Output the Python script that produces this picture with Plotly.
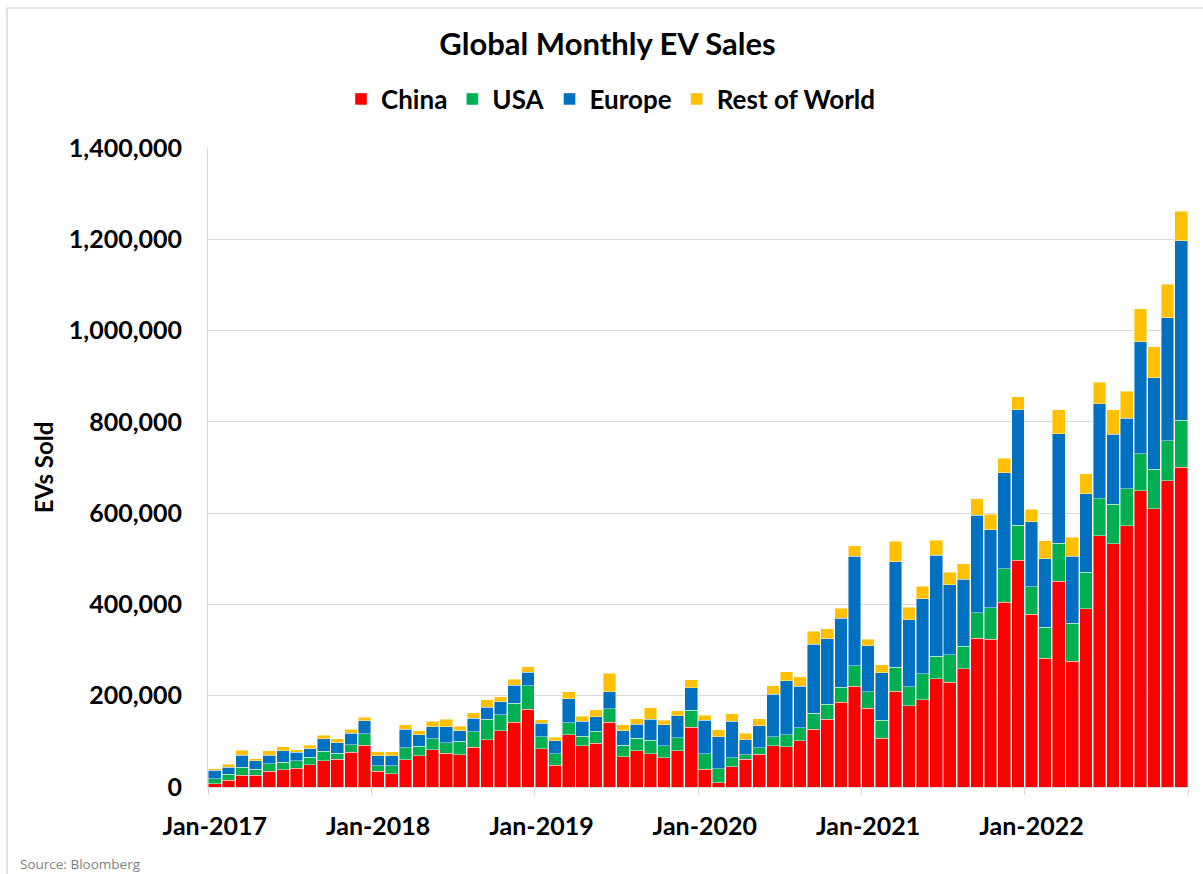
import plotly.graph_objects as go

# ---- Data (monthly EV sales, Jan-2017 .. Dec-2022) ----
month_names = ["Jan", "Feb", "Mar", "Apr", "May", "Jun",
               "Jul", "Aug", "Sep", "Oct", "Nov", "Dec"]
years = [2017, 2018, 2019, 2020, 2021, 2022]
months = [f"{m}-{y}" for y in years for m in month_names]

china = [
    7000, 15000, 26000, 26000, 35000, 38000, 41000, 49000, 57000, 61000, 76000, 91000,
    35000, 29000, 60000, 69000, 82000, 74000, 71000, 87000, 103000, 123000, 142000, 170000,
    84000, 48000, 114000, 90000, 96000, 142000, 66000, 79000, 73000, 64000, 79000, 131000,
    39000, 9000, 44000, 61000, 72000, 90000, 88000, 101000, 127000, 148000, 186000, 221000,
    173000, 107000, 210000, 178000, 191000, 237000, 230000, 259000, 326000, 324000, 405000, 497000,
    378000, 282000, 451000, 275000, 390000, 550000, 533000, 572000, 649000, 610000, 671000, 701000,
]
usa = [
    11000, 13000, 17000, 13000, 16000, 16000, 17000, 16000, 21000, 13000, 17000, 26000,
    12000, 18000, 26000, 20000, 24000, 23000, 29000, 34000, 45000, 35000, 42000, 52000,
    26000, 25000, 27000, 21000, 26000, 29000, 25000, 28000, 29000, 26000, 29000, 37000,
    34000, 31000, 20000, 10000, 14000, 20000, 26000, 29000, 35000, 33000, 33000, 45000,
    36000, 39000, 52000, 42000, 57000, 49000, 60000, 49000, 56000, 69000, 73000, 77000,
    61000, 68000, 83000, 84000, 81000, 81000, 86000, 81000, 81000, 86000, 88000, 103000,
]
europe = [
    19000, 15000, 27000, 19000, 19000, 25000, 18000, 19000, 28000, 23000, 25000, 28000,
    21000, 21000, 40000, 26000, 26000, 35000, 23000, 30000, 27000, 29000, 39000, 29000,
    30000, 28000, 52000, 33000, 32000, 38000, 32000, 30000, 46000, 46000, 48000, 50000,
    73000, 70000, 80000, 32000, 48000, 93000, 119000, 91000, 151000, 144000, 151000, 240000,
    100000, 104000, 231000, 146000, 165000, 222000, 153000, 147000, 213000, 171000, 210000, 252000,
    142000, 150000, 240000, 147000, 171000, 209000, 154000, 155000, 246000, 201000, 269000, 393000,
]
rest_of_world = [
    3000, 7000, 11000, 4000, 9000, 9000, 6000, 7000, 7000, 9000, 9000, 8000,
    9000, 9000, 10000, 8000, 12000, 16000, 10000, 12000, 16000, 11000, 13000, 12000,
    7000, 8000, 16000, 11000, 15000, 40000, 13000, 12000, 26000, 10000, 11000, 17000,
    11000, 15000, 16000, 15000, 16000, 19000, 20000, 21000, 28000, 22000, 22000, 23000,
    15000, 18000, 45000, 28000, 27000, 33000, 28000, 34000, 36000, 34000, 32000, 29000,
    27000, 40000, 53000, 41000, 44000, 47000, 53000, 59000, 72000, 68000, 74000, 64000,
]

series = [
    ("China", china, "#FF0000"),
    ("USA", usa, "#00B050"),
    ("Europe", europe, "#0070C0"),
    ("Rest of World", rest_of_world, "#FFC000"),
]

# category positions (index of month) and year-start labels
idx = list(range(len(months)))
label_pos = [i for i, m in enumerate(months) if m.startswith("Jan")]
label_text = [months[i] for i in label_pos]
boundary_pos = [i - 0.5 for i in label_pos] + [len(months) - 0.5]

FONT = "Lato"

fig = go.Figure()
for name, vals, col in series:
    fig.add_trace(go.Bar(
        x=idx, y=vals, name=name, customdata=months,
        marker=dict(color=col, line=dict(color="rgba(255,255,255,0.55)", width=0.8)),
        hovertemplate="%{customdata}<br>" + name + ": %{y:,}<extra></extra>",
    ))

W, H = 1203, 874
L, R, T, B = 208, 15, 148, 87
pw, ph = W - L - R, H - T - B

def px_x(x):
    return (x - L) / pw

def px_y(y):
    return (H - B - y) / ph

fig.update_layout(
    width=W, height=H, autosize=False,
    margin=dict(l=L, r=R, t=T, b=B, pad=0, autoexpand=False),
    barmode="stack",
    bargap=0.07,
    paper_bgcolor="white",
    plot_bgcolor="white",
    font=dict(family=FONT, color="black"),
    title=dict(
        text="Global Monthly EV Sales",
        font=dict(family=FONT, size=31, weight="bold", color="black"),
        x=0.505, xref="container", xanchor="center",
        y=1 - 44 / H, yref="container", yanchor="middle",
    ),
    legend=dict(
        orientation="h",
        xref="paper", x=px_x(611), xanchor="center",
        yref="paper", y=px_y(99), yanchor="middle",
        font=dict(family=FONT, size=26, weight="bold", color="black"),
        itemwidth=30, tracegroupgap=0,
        traceorder="normal",
    ),
    xaxis=dict(
        range=[-0.5, len(months) - 0.5], automargin=False,
        tickmode="array", tickvals=label_pos, ticktext=label_text,
        ticks="", ticklabelstandoff=17, tickangle=0,
        tickfont=dict(family=FONT, size=25, weight="bold", color="black"),
        showgrid=False, zeroline=False,
        showline=True, linecolor="#D9D9D9", linewidth=1,
        minor=dict(tickmode="array", tickvals=boundary_pos, ticks="outside",
                   ticklen=7, tickcolor="#D9D9D9", tickwidth=1, showgrid=False),
    ),
    yaxis=dict(
        range=[0, 1400000], dtick=200000, tickformat=",d", automargin=False,
        ticks="", ticklabelstandoff=20,
        tickfont=dict(family=FONT, size=25, weight="bold", color="black"),
        showgrid=True, gridcolor="#D9D9D9", gridwidth=1,
        zeroline=False, showline=True, linecolor="#D9D9D9", linewidth=1,
        title=dict(text="EVs Sold", standoff=8,
                   font=dict(family=FONT, size=24, weight="bold", color="black")),
    ),
    annotations=[dict(
        text="Source: Bloomberg", showarrow=False,
        xref="paper", yref="paper", x=px_x(18), y=px_y(864),
        xanchor="left", yanchor="middle",
        font=dict(family="Open Sans", size=13.5, color="#7F7F7F"),
    )],
    shapes=[
        dict(type="line", xref="paper", yref="paper",
             x0=px_x(7), x1=px_x(W + 5), y0=px_y(8), y1=px_y(8),
             line=dict(color="#D9D9D9", width=1.5)),
        dict(type="line", xref="paper", yref="paper",
             x0=px_x(7), x1=px_x(7), y0=px_y(8), y1=px_y(H + 5),
             line=dict(color="#D9D9D9", width=1.5)),
    ],
)

fig.write_html("out.html", config={"displayModeBar": False},
               post_script="document.body.style.margin='0';")
